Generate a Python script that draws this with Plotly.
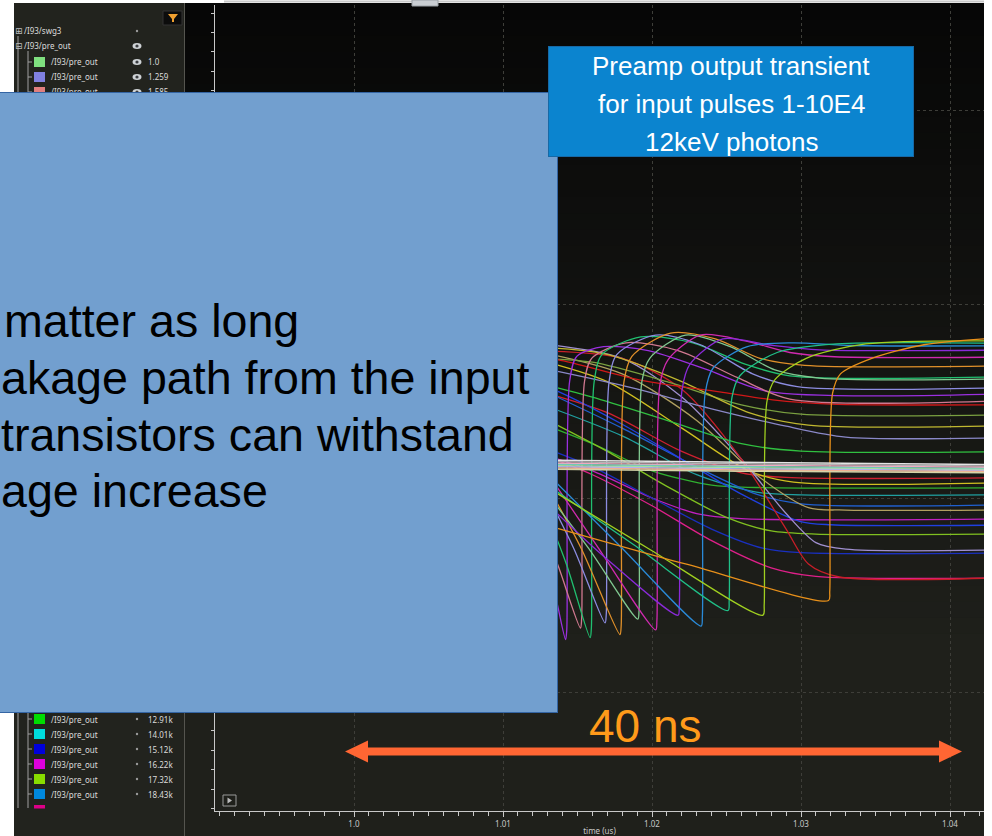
import numpy as np
import plotly.graph_objects as go

# ---------------------------------------------------------------------------
# Preamp output waveforms (time in ns, output in V)
# ---------------------------------------------------------------------------

# small input pulses: output stays close to the baseline
flat_t = [1012.0, 1026.0, 1043.0]
flat_v = [
    [0.598, 0.592, 0.586],
    [0.594, 0.588, 0.582],
    [0.590, 0.584, 0.579],
    [0.587, 0.581, 0.576],
    [0.584, 0.578, 0.573],
    [0.581, 0.575, 0.571],
    [0.578, 0.572, 0.568],
    [0.575, 0.569, 0.565],
]
flat_colors = ["#e4e4e4", "#b4b4b4", "#f0a8c0", "#70c8b8",
               "#a8e0a0", "#b0b0f0", "#f0b090", "#d4d4a8"]

# large pulses: ramp down, fast reset, then settle near the top
saw_t = [
    [1012.0, 1013.45, 1014.20, 1014.28, 1014.47, 1014.95, 1016.75, 1019.75, 1023.75, 1027.75, 1043.0],
    [1012.0, 1013.75, 1015.20, 1015.28, 1015.47, 1015.95, 1018.25, 1021.75, 1025.75, 1029.25, 1043.0],
    [1012.0, 1014.25, 1015.85, 1015.93, 1016.12, 1016.65, 1019.25, 1022.75, 1026.25, 1029.25, 1043.0],
    [1012.0, 1014.75, 1016.85, 1016.93, 1017.12, 1017.65, 1020.25, 1023.25, 1026.75, 1029.75, 1043.0],
    [1012.0, 1015.25, 1017.85, 1017.93, 1018.12, 1018.65, 1021.25, 1024.25, 1027.25, 1030.25, 1043.0],
    [1012.0, 1015.75, 1019.05, 1019.13, 1019.32, 1019.85, 1022.25, 1025.25, 1028.25, 1031.25, 1043.0],
    [1012.0, 1016.25, 1020.25, 1020.33, 1020.52, 1021.05, 1023.25, 1026.25, 1029.25, 1032.25, 1043.0],
    [1012.0, 1016.75, 1021.75, 1021.83, 1022.02, 1022.55, 1024.75, 1027.75, 1031.25, 1043.0],
    [1012.0, 1017.75, 1023.30, 1023.38, 1023.57, 1024.10, 1026.40, 1029.40, 1033.40, 1043.0],
    [1012.0, 1018.75, 1025.10, 1025.18, 1025.37, 1025.90, 1028.40, 1032.40, 1043.0],
    [1012.0, 1019.75, 1027.45, 1027.53, 1027.72, 1028.25, 1030.35, 1034.35, 1043.0],
    [1012.0, 1022.25, 1031.85, 1031.93, 1032.12, 1032.65, 1034.75, 1038.25, 1043.0],
]
saw_v = [
    [0.46, 0.26, 0.135, 0.160, 0.80, 0.865, 0.890, 0.880, 0.830, 0.775, 0.768],
    [0.50, 0.32, 0.165, 0.190, 0.80, 0.860, 0.900, 0.880, 0.810, 0.755, 0.750],
    [0.55, 0.33, 0.140, 0.165, 0.80, 0.870, 0.915, 0.900, 0.845, 0.815, 0.812],
    [0.58, 0.37, 0.178, 0.200, 0.80, 0.870, 0.920, 0.895, 0.820, 0.787, 0.784],
    [0.60, 0.37, 0.148, 0.170, 0.80, 0.865, 0.925, 0.910, 0.860, 0.842, 0.840],
    [0.56, 0.37, 0.188, 0.210, 0.80, 0.860, 0.920, 0.890, 0.830, 0.809, 0.807],
    [0.62, 0.38, 0.160, 0.185, 0.79, 0.855, 0.920, 0.905, 0.875, 0.864, 0.863],
    [0.52, 0.35, 0.198, 0.220, 0.78, 0.845, 0.910, 0.895, 0.882, 0.881],
    [0.60, 0.38, 0.170, 0.195, 0.77, 0.835, 0.890, 0.900, 0.893, 0.892],
    [0.56, 0.38, 0.210, 0.235, 0.76, 0.815, 0.875, 0.897, 0.899],
    [0.55, 0.37, 0.198, 0.225, 0.75, 0.805, 0.860, 0.897, 0.905],
    [0.44, 0.33, 0.236, 0.260, 0.77, 0.820, 0.860, 0.895, 0.912],
]
saw_colors = ["#9b30e0", "#d07890", "#20c070", "#8c8ce0", "#e0902a", "#80c890",
              "#d02ab0", "#8a2ad8", "#2a8ad8", "#20c088", "#a0d020", "#e8901a"]

# medium pulses settling to levels above the baseline
upper_t = [
    [1012.0, 1016.0, 1021.0, 1026.0, 1030.0, 1043.0],
    [1012.0, 1017.0, 1022.0, 1026.5, 1030.5, 1043.0],
    [1012.0, 1018.0, 1024.0, 1029.0, 1033.0, 1043.0],
    [1012.0, 1016.0, 1021.0, 1026.0, 1030.0, 1043.0],
    [1012.0, 1013.7, 1019.2, 1025.0, 1028.1, 1032.0, 1043.0],
]
upper_v = [
    [0.860, 0.850, 0.800, 0.740, 0.716, 0.714],
    [0.890, 0.870, 0.800, 0.720, 0.688, 0.686],
    [0.840, 0.790, 0.730, 0.685, 0.657, 0.655],
    [0.800, 0.760, 0.700, 0.640, 0.621, 0.619],
    [0.860, 0.856, 0.804, 0.771, 0.753, 0.742, 0.740],
]
upper_colors = ["#7aa040", "#c0b830", "#8a88c8", "#30c040", "#d01818"]

# pulses settling to levels below the baseline
lower_t = [
    [1012.0, 1017.0, 1022.0, 1026.0, 1029.0, 1043.0],
    [1012.0, 1017.0, 1022.0, 1026.5, 1029.5, 1043.0],
    [1012.0, 1016.0, 1020.0, 1024.0, 1027.0, 1043.0],
    [1012.0, 1018.0, 1023.0, 1027.0, 1030.0, 1043.0],
    [1012.0, 1018.0, 1023.0, 1027.0, 1030.0, 1043.0],
    [1012.0, 1018.0, 1023.0, 1027.0, 1030.5, 1033.0, 1043.0],
    [1012.0, 1016.0, 1020.0, 1023.0, 1026.0, 1043.0],
    [1012.0, 1013.8, 1018.0, 1022.0, 1026.0, 1029.9, 1032.0, 1043.0],
    [1012.0, 1017.0, 1021.0, 1025.0, 1028.0, 1031.0, 1043.0],
    [1012.0, 1018.0, 1022.0, 1026.0, 1029.0, 1031.0, 1033.0, 1043.0],
    [1012.0, 1016.0, 1020.0, 1024.0, 1027.5, 1030.0, 1043.0],
    [1012.0, 1016.0, 1020.0, 1024.0, 1028.0, 1031.0, 1043.0],
    [1012.0, 1018.0, 1022.0, 1026.0, 1029.0, 1030.5, 1032.5, 1043.0],
]
lower_v = [
    [0.780, 0.720, 0.620, 0.565, 0.553, 0.552],
    [0.860, 0.800, 0.680, 0.570, 0.541, 0.539],
    [0.700, 0.640, 0.570, 0.533, 0.527, 0.526],
    [0.750, 0.660, 0.560, 0.515, 0.508, 0.508],
    [0.790, 0.680, 0.580, 0.510, 0.485, 0.482],
    [0.880, 0.820, 0.700, 0.560, 0.475, 0.469, 0.469],
    [0.620, 0.570, 0.500, 0.460, 0.447, 0.446],
    [0.800, 0.773, 0.690, 0.600, 0.510, 0.440, 0.431, 0.430],
    [0.720, 0.620, 0.530, 0.450, 0.415, 0.407, 0.407],
    [0.900, 0.860, 0.760, 0.600, 0.460, 0.385, 0.368, 0.366],
    [0.640, 0.580, 0.500, 0.420, 0.370, 0.359, 0.358],
    [0.620, 0.560, 0.480, 0.390, 0.320, 0.298, 0.294],
    [0.880, 0.860, 0.780, 0.600, 0.420, 0.330, 0.297, 0.294],
]
lower_colors = ["#d02030", "#d0c020", "#30b030", "#20a0a0", "#2060d0", "#b0a060", "#c020c0",
                "#2040e0", "#80c020", "#a090d0", "#1a30c0", "#e0208a", "#c81e28"]

# x-axis tick labels (us)
x_tick_vals = [1.00, 1.01, 1.02, 1.03, 1.04]
x_tick_text = ["1.0", "1.01", "1.02", "1.03", "1.04"]

# signal browser entries
legend_top_values = ["1.0", "1.259", "1.585"]
legend_top_colors = ["#7fe07f", "#8080e0", "#e07f7f"]
legend_bottom_values = ["12.91k", "14.01k", "15.12k", "16.22k", "17.32k", "18.43k"]
legend_bottom_colors = ["#00dd00", "#00dddd", "#0000dd", "#dd00dd", "#88dd00", "#0088dd"]

note_lines = ["matter as long", "akage path from the input", "transistors can withstand", "age increase"]
title_lines = ["Preamp output transient", "for input pulses 1-10E4", "12keV photons"]
span_label = "40 ns"

# ---------------------------------------------------------------------------
# Figure geometry (pixels) and helpers for paper coordinates
# ---------------------------------------------------------------------------
W, H = 992, 836
ML, MR, MT, MB = 215, 8, 5, 25
PW, PH = W - ML - MR, H - MT - MB


def xp(px):
    return (px - ML) / PW


def yp(py):
    return (H - MB - py) / PH


fig = go.Figure()


def add_wave(t_ns, v, color, width=1.3):
    fig.add_trace(go.Scatter(
        x=np.array(t_ns) / 1000.0, y=v, mode="lines",
        line=dict(color=color, width=width, shape="spline", smoothing=0.8),
        hoverinfo="skip", showlegend=False))


for t, v, c in zip(lower_t, lower_v, lower_colors):
    add_wave(t, v, c)
for t, v, c in zip(upper_t, upper_v, upper_colors):
    add_wave(t, v, c)
for t, v, c in zip(saw_t, saw_v, saw_colors):
    add_wave(t, v, c)
for v, c in zip(flat_v, flat_colors):
    add_wave(flat_t, v, c, width=1.5)

shapes = []
ann = []

# waveform window background: dark gradient
top_rgb = np.array([6, 6, 6])
bot_rgb = np.array([31, 32, 27])
n_bands = 40
g0, g1 = 3, 650
for i in range(n_bands):
    a = g0 + (g1 - g0) * i / n_bands
    b = g0 + (g1 - g0) * (i + 1) / n_bands + 1
    f = (i + 0.5) / n_bands
    r, g, bl = (top_rgb + (bot_rgb - top_rgb) * f).round().astype(int)
    shapes.append(dict(type="rect", xref="paper", yref="paper", x0=xp(185), x1=xp(984),
                       y0=yp(b), y1=yp(a), fillcolor=f"rgb({r},{g},{bl})", line_width=0, layer="below"))
shapes.append(dict(type="rect", xref="paper", yref="paper", x0=xp(185), x1=xp(984),
                   y0=yp(836), y1=yp(g1), fillcolor="rgb(31,32,27)", line_width=0, layer="below"))

# signal browser panel
shapes.append(dict(type="rect", xref="paper", yref="paper", x0=xp(14), x1=xp(184),
                   y0=yp(836), y1=yp(3), fillcolor="#22231e", line_width=0, layer="below"))
shapes.append(dict(type="line", xref="paper", yref="paper", x0=xp(184.5), x1=xp(184.5),
                   y0=yp(836), y1=yp(3), line=dict(color="#55554f", width=1), layer="below"))
# top strip and tab of the window
shapes.append(dict(type="line", xref="paper", yref="paper", x0=xp(224), x1=xp(984),
                   y0=yp(1.5), y1=yp(1.5), line=dict(color="#c8c8c8", width=2), layer="above"))
shapes.append(dict(type="rect", xref="paper", yref="paper", x0=xp(412), x1=xp(438),
                   y0=yp(6), y1=yp(0), fillcolor="#c9cdd2", line=dict(color="#9aa0a6", width=1), layer="above"))

# filter button
shapes.append(dict(type="rect", xref="paper", yref="paper", x0=xp(163), x1=xp(182),
                   y0=yp(25), y1=yp(11), fillcolor="#0c0c0c", line=dict(color="#333", width=1), layer="above"))
shapes.append(dict(type="path", xref="paper", yref="paper", layer="above",
                   path=f"M {xp(168)},{yp(14)} L {xp(178)},{yp(14)} L {xp(174)},{yp(19)} L {xp(174)},{yp(22)} "
                        f"L {xp(172)},{yp(22)} L {xp(172)},{yp(19)} Z",
                   fillcolor="#f0a030", line_width=0))

# play button
shapes.append(dict(type="rect", xref="paper", yref="paper", x0=xp(223), x1=xp(236),
                   y0=yp(806), y1=yp(795), line=dict(color="#9a9a9a", width=1), layer="above"))
shapes.append(dict(type="path", xref="paper", yref="paper", layer="above",
                   path=f"M {xp(227.5)},{yp(797.5)} L {xp(227.5)},{yp(803.5)} L {xp(232)},{yp(800.5)} Z",
                   fillcolor="#bbbbbb", line_width=0))

# tree lines
tree_col = "#a0a0a0"
shapes.append(dict(type="line", xref="paper", yref="paper", x0=xp(18), x1=xp(18), y0=yp(808), y1=yp(36),
                   line=dict(color=tree_col, width=1), layer="above"))
shapes.append(dict(type="line", xref="paper", yref="paper", x0=xp(28), x1=xp(28), y0=yp(808), y1=yp(51),
                   line=dict(color=tree_col, width=1), layer="above"))

txt_font = dict(family="Noto Sans, DejaVu Sans", size=8, color="#dcdcdc")


def eye(px, py):
    shapes.append(dict(type="circle", xref="paper", yref="paper", x0=xp(px - 4.5), x1=xp(px + 4.5),
                       y0=yp(py + 3), y1=yp(py - 3), fillcolor="#cfd3d6", line_width=0, layer="above"))
    shapes.append(dict(type="circle", xref="paper", yref="paper", x0=xp(px - 1.6), x1=xp(px + 1.6),
                       y0=yp(py + 1.6), y1=yp(py - 1.6), fillcolor="#3a3c40", line_width=0, layer="above"))


def dot(px, py):
    shapes.append(dict(type="circle", xref="paper", yref="paper", x0=xp(px - 1.2), x1=xp(px + 1.2),
                       y0=yp(py + 1.2), y1=yp(py - 1.2), fillcolor="#9a9a9a", line_width=0, layer="above"))


def row(py, color, value, icon):
    shapes.append(dict(type="line", xref="paper", yref="paper", x0=xp(28), x1=xp(32), y0=yp(py), y1=yp(py),
                       line=dict(color=tree_col, width=1), layer="above"))
    shapes.append(dict(type="rect", xref="paper", yref="paper", x0=xp(34), x1=xp(45),
                       y0=yp(py + 5), y1=yp(py - 5), fillcolor=color, line_width=0, layer="above"))
    ann.append(dict(text="/I93/pre_out", x=xp(49), y=yp(py), xref="paper", yref="paper",
                    xanchor="left", yanchor="middle", showarrow=False, font=txt_font))
    icon(137, py)
    ann.append(dict(text=value, x=xp(146), y=yp(py), xref="paper", yref="paper",
                    xanchor="left", yanchor="middle", showarrow=False, font=txt_font))


ann.append(dict(text="⊞", x=xp(13), y=yp(31), xref="paper", yref="paper", xanchor="left", yanchor="middle",
                showarrow=False, font=dict(family="DejaVu Sans", size=9, color="#bdbdbd")))
ann.append(dict(text="/I93/swg3", x=xp(22), y=yp(31), xref="paper", yref="paper", xanchor="left",
                yanchor="middle", showarrow=False, font=txt_font))
dot(137, 31)
ann.append(dict(text="⊟", x=xp(13), y=yp(46), xref="paper", yref="paper", xanchor="left", yanchor="middle",
                showarrow=False, font=dict(family="DejaVu Sans", size=9, color="#bdbdbd")))
ann.append(dict(text="/I93/pre_out", x=xp(22), y=yp(46), xref="paper", yref="paper", xanchor="left",
                yanchor="middle", showarrow=False, font=txt_font))
eye(137, 46)
for k, (val, col) in enumerate(zip(legend_top_values, legend_top_colors)):
    row(62 + 15 * k, col, val, eye)
for k, (val, col) in enumerate(zip(legend_bottom_values, legend_bottom_colors)):
    row(719 + 15 * k, col, val, dot)
# last entry, cut by the bottom of the panel
shapes.append(dict(type="rect", xref="paper", yref="paper", x0=xp(34), x1=xp(45),
                   y0=yp(808.5), y1=yp(805), fillcolor="#dd0088", line_width=0, layer="above"))

# slide overlay: blue note box with text
ann.append(dict(text=" ", x=xp(-3), y=yp(92), xref="paper", yref="paper", xanchor="left", yanchor="top",
                showarrow=False, width=559, height=619, bgcolor="#729fcf", bordercolor="#3465a4",
                borderwidth=1, borderpad=0))
note_x = [3, 0, 0, 0]
note_y = [321, 378, 435, 491]
for s, nx, ny in zip(note_lines, note_x, note_y):
    ann.append(dict(text=s, x=xp(nx), y=yp(ny), xref="paper", yref="paper", xanchor="left", yanchor="middle",
                    showarrow=False, borderpad=0,
                    font=dict(family="Liberation Sans, Arial", size=46.6, color="#000000")))

# title box
ann.append(dict(text=" ", x=xp(548), y=yp(46), xref="paper", yref="paper", xanchor="left", yanchor="top",
                showarrow=False, width=364, height=109, bgcolor="#0b84cf", bordercolor="#1769a6",
                borderwidth=1, borderpad=0))
for s, ty in zip(title_lines, [66, 104, 142]):
    ann.append(dict(text=s, x=xp(731), y=yp(ty), xref="paper", yref="paper", xanchor="center", yanchor="middle",
                    showarrow=False, font=dict(family="Liberation Sans, Arial", size=26, color="#ffffff")))

# 40 ns span marker
ann.append(dict(text=span_label, x=xp(645.5), y=yp(726), xref="paper", yref="paper", xanchor="center",
                yanchor="middle", showarrow=False,
                font=dict(family="Liberation Sans, Arial", size=46, color="#ff9a1a")))
ay = 751.5
arrow_pts = [(345, ay), (368, ay - 11), (368, ay - 4), (939, ay - 4), (939, ay - 11), (962, ay),
             (939, ay + 11), (939, ay + 4), (368, ay + 4), (368, ay + 11)]
path = "M " + " L ".join(f"{xp(a)},{yp(b)}" for a, b in arrow_pts) + " Z"
shapes.append(dict(type="path", xref="paper", yref="paper", path=path, fillcolor="#ff6633",
                   line_width=0, layer="above"))

axis_col = "#c8c8c8"
grid_col = "#3e3e39"
x_lo = (1000 - 139 / 14.9) / 1000
x_hi = (1040 + 34 / 14.9) / 1000
y_lo = (692 - 811) / 388
y_hi = (692 - 5) / 388

fig.update_layout(
    width=W, height=H, margin=dict(l=ML, r=MR, t=MT, b=MB, autoexpand=False),
    paper_bgcolor="#ffffff", plot_bgcolor="rgba(0,0,0,0)", showlegend=False,
    shapes=shapes, annotations=ann,
    xaxis=dict(range=[x_lo, x_hi], tickmode="array", tickvals=x_tick_vals, ticktext=x_tick_text,
               automargin=False,
               ticks="outside", ticklen=5, tickcolor=axis_col, tickwidth=1, ticklabelstandoff=0,
               tickfont=dict(family="Noto Sans, DejaVu Sans", size=8, color=axis_col),
               showgrid=True, gridcolor=grid_col, griddash="dot", gridwidth=1, zeroline=False,
               showline=True, linecolor=axis_col, linewidth=1,
               minor=dict(tickmode="linear", tick0=1.0, dtick=0.001, ticks="outside", ticklen=4,
                          tickcolor=axis_col, showgrid=False),
               title=dict(text="time (us)", standoff=2,
                          font=dict(family="Noto Sans, DejaVu Sans", size=8, color=axis_col))),
    yaxis=dict(range=[y_lo, y_hi], tickmode="linear", tick0=0, dtick=0.5, showticklabels=False,
               automargin=False,
               ticks="outside", ticklen=3, tickcolor=axis_col,
               showgrid=True, gridcolor=grid_col, griddash="dot", gridwidth=1, zeroline=False,
               showline=True, linecolor=axis_col, linewidth=1,
               minor=dict(tickmode="linear", tick0=0, dtick=0.05, ticks="outside", ticklen=3,
                          tickcolor=axis_col, showgrid=False)),
)

fig.write_html("out.html")
